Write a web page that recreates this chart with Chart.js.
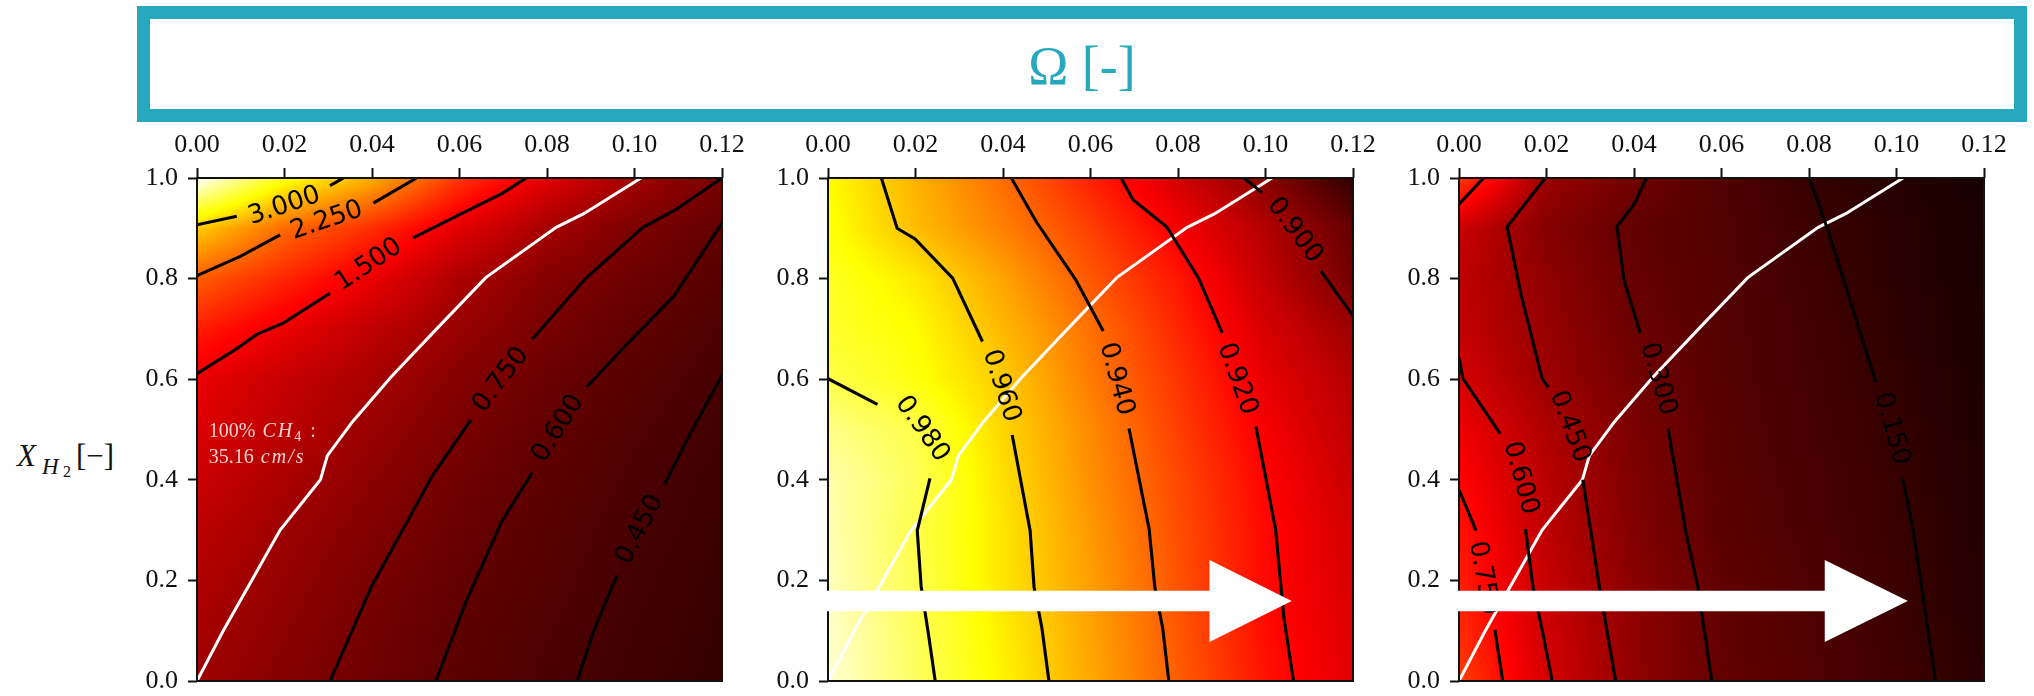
<!DOCTYPE html>
<html>
<head>
<meta charset="utf-8">
<script src="https://cdn.jsdelivr.net/npm/chart.js@4/dist/chart.umd.min.js"></script>
<style>
html,body{margin:0;padding:0;background:#fff;}
body{width:2034px;height:696px;overflow:hidden;position:relative;}
#titlebox{position:absolute;left:137px;top:6px;width:1890px;height:116px;box-sizing:border-box;border:13px solid #26A9BE;background:#fff;
  display:flex;align-items:center;justify-content:center;font-family:'Liberation Serif','DejaVu Serif',serif;font-size:54px;color:#26A9BE;padding-top:4px;}
.yl{position:absolute;font-family:'Liberation Serif','DejaVu Serif',serif;color:#111;white-space:nowrap;}
canvas{position:absolute;}
</style>
</head>
<body>
<div id="titlebox">Ω [-]</div>
<span class="yl" style="left:17px;top:440px;font-size:31px;line-height:31px;font-style:italic;">X</span>
<span class="yl" style="left:42px;top:455px;font-size:23px;line-height:23px;font-style:italic;">H</span>
<span class="yl" style="left:63px;top:464px;font-size:16px;line-height:16px;">2</span>
<span class="yl" style="left:76px;top:440px;font-size:31px;line-height:31px;">[−]</span>
<canvas id="c1"></canvas>
<canvas id="c2"></canvas>
<canvas id="c3"></canvas>
<script>
// ---------------- data ----------------
const xTicks = [0, 0.02, 0.04, 0.06, 0.08, 0.10, 0.12];
const xTickLabels = ['0.00', '0.02', '0.04', '0.06', '0.08', '0.10', '0.12'];
const yTicks = [0, 0.2, 0.4, 0.6, 0.8, 1.0];
const yTickLabels = ['0.0', '0.2', '0.4', '0.6', '0.8', '1.0'];

// field sample locations (x = second variable, y = X_H2)
const gridX = [0, 0.02, 0.04, 0.06, 0.08, 0.10, 0.12];
const gridY = [0, 0.1, 0.2, 0.3, 0.4, 0.5, 0.6, 0.7, 0.8, 0.9, 1.0];

// rows from X_H2 = 0.0 (first) to 1.0 (last)
const leftGrid = [
  [1.00, 0.835, 0.69, 0.575, 0.48, 0.39, 0.33],
  [1.05, 0.88, 0.717, 0.59, 0.50, 0.41, 0.34],
  [1.11, 0.93, 0.753, 0.62, 0.53, 0.43, 0.35],
  [1.18, 0.99, 0.81, 0.66, 0.55, 0.45, 0.37],
  [1.27, 1.07, 0.88, 0.70, 0.58, 0.48, 0.38],
  [1.38, 1.18, 0.96, 0.76, 0.61, 0.51, 0.42],
  [1.48, 1.24, 1.05, 0.84, 0.66, 0.55, 0.45],
  [1.80, 1.48, 1.20, 0.95, 0.745, 0.60, 0.49],
  [2.22, 1.85, 1.48, 1.08, 0.83, 0.68, 0.55],
  [2.95, 2.30, 1.90, 1.42, 1.04, 0.78, 0.61],
  [4.40, 3.35, 2.75, 1.95, 1.42, 1.02, 0.75]
];
const midGrid = [
  [0.998, 0.983, 0.968, 0.953, 0.938, 0.923, 0.914],
  [0.997, 0.982, 0.967, 0.952, 0.937, 0.922, 0.913],
  [0.995, 0.981, 0.965, 0.951, 0.936, 0.921, 0.912],
  [0.994, 0.980, 0.965, 0.950, 0.935, 0.921, 0.911],
  [0.993, 0.982, 0.964, 0.948, 0.934, 0.920, 0.909],
  [0.988, 0.980, 0.962, 0.947, 0.932, 0.918, 0.907],
  [0.980, 0.972, 0.960, 0.944, 0.930, 0.915, 0.905],
  [0.976, 0.970, 0.956, 0.942, 0.927, 0.912, 0.901],
  [0.975, 0.966, 0.952, 0.937, 0.924, 0.908, 0.893],
  [0.972, 0.957, 0.945, 0.932, 0.918, 0.905, 0.890],
  [0.970, 0.955, 0.941, 0.926, 0.911, 0.897, 0.880]
];
const rightGrid = [
  [0.92, 0.61, 0.415, 0.285, 0.236, 0.175, 0.12],
  [0.86, 0.59, 0.41, 0.28, 0.23, 0.17, 0.11],
  [0.82, 0.565, 0.39, 0.275, 0.225, 0.165, 0.105],
  [0.79, 0.54, 0.37, 0.26, 0.215, 0.16, 0.10],
  [0.74, 0.53, 0.36, 0.255, 0.21, 0.155, 0.10],
  [0.69, 0.50, 0.35, 0.25, 0.20, 0.148, 0.09],
  [0.61, 0.445, 0.33, 0.245, 0.195, 0.14, 0.085],
  [0.56, 0.43, 0.305, 0.24, 0.19, 0.13, 0.08],
  [0.55, 0.41, 0.29, 0.24, 0.18, 0.125, 0.075],
  [0.58, 0.38, 0.28, 0.235, 0.17, 0.12, 0.07],
  [0.92, 0.445, 0.32, 0.23, 0.15, 0.11, 0.065]
];

// reference line: 100% CH4 flame speed (35.16 cm/s), same in all panels
const refLine = [[0,0],[0.006,0.1],[0.0125,0.2],[0.019,0.3],[0.0282,0.4],[0.0298,0.448],[0.0355,0.515],
  [0.0443,0.604],[0.0551,0.703],[0.066,0.802],[0.0821,0.902],[0.0884,0.929],[0.1015,1.0]];

// contour lines (null = gap where the inline label sits)
const leftLevels = [3.0, 2.25, 1.5, 0.75, 0.6, 0.45];
const leftContours = [
  [[0,0.907],[0.0091,0.924],null,[0.0304,0.985],[0.0335,1.0]],
  [[0,0.806],[0.0099,0.844],[0.019,0.887],null,[0.0403,0.950],[0.0502,1.0]],
  [[0,0.611],[0.0088,0.659],[0.0137,0.689],[0.0198,0.712],[0.0304,0.771],null,[0.0494,0.881],[0.0593,0.924],[0.0699,0.970],[0.0752,1.0]],
  [[0.0304,0],[0.040,0.19],[0.054,0.411],[0.0626,0.519],null,[0.0766,0.679],[0.0889,0.801],[0.1018,0.901],[0.1094,0.937],[0.12,1.0]],
  [[0.0546,0],[0.0616,0.16],[0.0696,0.316],[0.0766,0.414],null,[0.089,0.584],[0.0982,0.669],[0.1089,0.764],[0.12,0.91]],
  [[0.0869,0],[0.0906,0.098],[0.096,0.21],null,[0.1068,0.39],[0.1132,0.499],[0.12,0.608]]
];
const leftLabelAt = [[0.0199,0.946],[0.0296,0.917],[0.0391,0.829],[0.0693,0.600],[0.0824,0.503],[0.1011,0.302]];

const midLevels = [0.98, 0.96, 0.94, 0.92, 0.90];
const midContours = [
  [[0,0.601],[0.0113,0.55],null,[0.0233,0.403],[0.0204,0.299],[0.0213,0.187],[0.0231,0.085],[0.0245,0]],
  [[0.0122,1.0],[0.0158,0.9],[0.0199,0.879],[0.0285,0.801],[0.0353,0.675],null,[0.0421,0.489],[0.0462,0.299],[0.0471,0.187],[0.0489,0.105],[0.0505,0]],
  [[0.0419,1.0],[0.0476,0.913],[0.0566,0.798],[0.0629,0.696],null,[0.0688,0.502],[0.0734,0.302],[0.0747,0.187],[0.0765,0.105],[0.0779,0]],
  [[0.067,1.0],[0.0697,0.957],[0.0774,0.903],[0.0847,0.801],[0.0901,0.692],null,[0.0978,0.506],[0.1023,0.302],[0.1042,0.126],[0.1064,0]],
  [[0.0951,1.0],[0.0992,0.971],null,[0.1127,0.815],[0.12,0.726]]
];
const midLabelAt = [[0.0217,0.502],[0.0398,0.587],[0.0661,0.601],[0.0937,0.601],[0.1068,0.897]];

const rightLevels = [0.75, 0.75, 0.6, 0.45, 0.3, 0.15];
const rightContours = [
  [[0,0.948],[0.0056,1.0]],
  [[0,0.38],[0.0039,0.299],null,[0.0082,0.102],[0.01,0]],
  [[0,0.642],[0.0009,0.601],[0.0094,0.492],null,[0.0152,0.302],[0.0169,0.187],[0.0194,0.085],[0.0213,0]],
  [[0.0197,1.0],[0.011,0.903],[0.0143,0.764],[0.019,0.601],[0.0204,0.584],null,[0.0283,0.4],[0.0321,0.187],[0.0358,0]],
  [[0.0428,1.0],[0.0402,0.95],[0.0361,0.903],[0.0377,0.798],[0.0414,0.692],null,[0.0478,0.502],[0.0518,0.299],[0.0546,0.187],[0.0578,0]],
  [[0.0801,1.0],[0.0846,0.889],[0.0953,0.594],null,[0.1014,0.404],[0.1038,0.302],[0.1089,0]]
];
const rightLabelAt = [null,[0.0058,0.205],[0.01425,0.404],[0.0255,0.506],[0.0457,0.601],[0.0991,0.502]];

// white arrows (data units): shaft start, head base, tip, centre y
const midArrow = [-0.015, 0.0872, 0.1060, 0.159];
const rightArrow = [-0.015, 0.0836, 0.1026, 0.159];

// ---------------- style / layout ----------------
const PANEL_W = 525, PANEL_H = 503, PANEL_TOP = 178;
const AX_LEFT = 120, AX_TOP = 58, PAD_R = 32, PAD_B = 32;
const tickFont = {family: "'Liberation Serif','DejaVu Serif',serif", size: 26};
const labelFont = "26px 'DejaVu Sans', sans-serif";

function hot(t) {
  t = Math.max(0, Math.min(1, t));
  const r = Math.min(1, t / 0.365079);
  const g = Math.max(0, Math.min(1, (t - 0.365079) / 0.380953));
  const b = Math.max(0, Math.min(1, (t - 0.746032) / 0.253968));
  return [r * 255, g * 255, b * 255];
}
function locate(arr, v) {
  let i = 0;
  while (i < arr.length - 2 && v > arr[i + 1]) i++;
  return i;
}
function bilinear(grid, xv, yv) {
  const i = locate(gridX, xv), j = locate(gridY, yv);
  let fx = (xv - gridX[i]) / (gridX[i + 1] - gridX[i]);
  let fy = (yv - gridY[j]) / (gridY[j + 1] - gridY[j]);
  fx = Math.max(0, Math.min(1, fx)); fy = Math.max(0, Math.min(1, fy));
  const a = grid[j][i], b = grid[j][i + 1], c = grid[j + 1][i], d = grid[j + 1][i + 1];
  return (a * (1 - fx) + b * fx) * (1 - fy) + (c * (1 - fx) + d * fx) * fy;
}

const heatPlugin = {
  id: 'heat',
  beforeDatasetsDraw(chart, args, opts) {
    const {ctx, chartArea: ca, scales: {x, y}} = chart;
    const L = Math.round(ca.left), T = Math.round(ca.top);
    const W = Math.round(ca.right) - L, H = Math.round(ca.bottom) - T;
    const img = ctx.createImageData(W, H);
    const span = opts.vmax - opts.vmin;
    for (let py = 0; py < H; py++) {
      const yv = y.getValueForPixel(T + py + 0.5);
      for (let px = 0; px < W; px++) {
        const xv = x.getValueForPixel(L + px + 0.5);
        const v = bilinear(opts.grid, xv, yv);
        const c = hot((v - opts.vmin) / span);
        const k = (py * W + px) * 4;
        img.data[k] = c[0]; img.data[k + 1] = c[1]; img.data[k + 2] = c[2]; img.data[k + 3] = 255;
      }
    }
    ctx.putImageData(img, L, T);
  }
};

const contourLabelPlugin = {
  id: 'clabels',
  afterDatasetsDraw(chart, args, opts) {
    const {ctx, scales: {x, y}} = chart;
    ctx.save();
    ctx.font = labelFont;
    ctx.fillStyle = '#000';
    ctx.textAlign = 'center';
    ctx.textBaseline = 'middle';
    opts.contours.forEach((pts, n) => {
      const at = opts.labelAt[n];
      if (!at) return;
      const k = pts.indexOf(null);
      const p1 = pts[k - 1], p2 = pts[k + 1];
      const dx = x.getPixelForValue(p2[0]) - x.getPixelForValue(p1[0]);
      const dy = y.getPixelForValue(p2[1]) - y.getPixelForValue(p1[1]);
      let ang = Math.atan2(dy, dx);
      if (ang > Math.PI / 2) ang -= Math.PI;
      if (ang <= -Math.PI / 2) ang += Math.PI;
      ctx.save();
      ctx.translate(x.getPixelForValue(at[0]), y.getPixelForValue(at[1]));
      ctx.rotate(ang);
      ctx.fillText(opts.levels[n].toFixed(3), 0, 1);
      ctx.restore();
    });
    ctx.restore();
  }
};

const framePlugin = {
  id: 'frame',
  afterDraw(chart) {
    const {ctx, chartArea: ca} = chart;
    ctx.save();
    ctx.strokeStyle = '#111';
    ctx.lineWidth = 2;
    ctx.strokeRect(ca.left, ca.top, ca.right - ca.left, ca.bottom - ca.top);
    ctx.restore();
  }
};

const notePlugin = {
  id: 'note',
  afterDraw(chart, args, opts) {
    if (!opts.show) return;
    const {ctx, scales: {x, y}} = chart;
    const fam = "'Liberation Serif','DejaVu Serif',serif";
    function runs(x0, y0, parts) {
      let cx = x0;
      parts.forEach(p => {
        ctx.font = (p.it ? 'italic ' : '') + (p.sub ? '14px ' : '20px ') + fam;
        ctx.letterSpacing = p.it ? '2px' : '0px';
        ctx.fillText(p.t, cx, y0 + (p.sub ? 4 : 0));
        cx += ctx.measureText(p.t).width + (p.gap || 0);
      });
    }
    ctx.save();
    ctx.fillStyle = '#f4d2d2';
    ctx.textBaseline = 'alphabetic';
    ctx.textAlign = 'left';
    const x0 = x.getPixelForValue(0.0027);
    runs(x0, y.getPixelForValue(0.486), [{t: '100%', gap: 7}, {t: 'CH', it: true}, {t: '4', sub: true, gap: 9}, {t: ':'}]);
    runs(x0, y.getPixelForValue(0.434), [{t: '35.16', gap: 7}, {t: 'cm/s', it: true}]);
    ctx.restore();
  }
};

const arrowPlugin = {
  id: 'arrow',
  afterDraw(chart, args, opts) {
    if (!opts.spec) return;
    const {ctx, scales: {x, y}} = chart;
    const [x0, xb, xt, yc] = opts.spec;
    const X0 = x.getPixelForValue(x0), XB = x.getPixelForValue(xb), XT = x.getPixelForValue(xt);
    const Yc = y.getPixelForValue(yc);
    const sh = y.getPixelForValue(0) - y.getPixelForValue(0.0205);
    const hh = y.getPixelForValue(0) - y.getPixelForValue(0.0815);
    ctx.save();
    ctx.fillStyle = '#fff';
    ctx.beginPath();
    ctx.moveTo(X0, Yc - sh);
    ctx.lineTo(XB, Yc - sh);
    ctx.lineTo(XB, Yc - hh);
    ctx.lineTo(XT, Yc);
    ctx.lineTo(XB, Yc + hh);
    ctx.lineTo(XB, Yc + sh);
    ctx.lineTo(X0, Yc + sh);
    ctx.closePath();
    ctx.fill();
    ctx.restore();
  }
};

function toXY(pts) {
  return pts.map(p => p ? {x: p[0], y: p[1]} : {x: NaN, y: NaN});
}

function makePanel(id, left, grid, vmin, vmax, levels, contours, labelAt, arrow, note) {
  const cv = document.getElementById(id);
  const cw = AX_LEFT + PANEL_W + PAD_R, ch = AX_TOP + PANEL_H + PAD_B;
  cv.width = cw; cv.height = ch;
  cv.style.width = cw + 'px'; cv.style.height = ch + 'px';
  cv.style.left = (left - AX_LEFT) + 'px';
  cv.style.top = (PANEL_TOP - AX_TOP) + 'px';

  const datasets = contours.map(pts => ({
    data: toXY(pts), showLine: true, borderColor: '#000', borderWidth: 3.1,
    pointRadius: 0, pointHoverRadius: 0, fill: false, spanGaps: false, tension: 0
  }));
  datasets.push({
    data: toXY(refLine), showLine: true, borderColor: '#fff', borderWidth: 3,
    pointRadius: 0, pointHoverRadius: 0, fill: false, tension: 0
  });

  return new Chart(cv, {
    type: 'scatter',
    data: {datasets},
    options: {
      responsive: false, animation: false, devicePixelRatio: 1,
      events: [],
      layout: {padding: {left: 0, top: 0, right: PAD_R, bottom: PAD_B}},
      plugins: {
        legend: {display: false}, tooltip: {enabled: false},
        heat: {grid, vmin, vmax},
        clabels: {levels, contours, labelAt},
        note: {show: note},
        arrow: {spec: arrow}
      },
      scales: {
        x: {
          type: 'linear', position: 'top', min: 0, max: 0.12,
          afterBuildTicks: s => { s.ticks = xTicks.map(v => ({value: v})); },
          afterFit: s => { s.height = AX_TOP; },
          ticks: {font: tickFont, color: '#111', padding: 7, maxRotation: 0, autoSkip: false,
            callback: (v, i) => xTickLabels[i]},
          grid: {drawOnChartArea: false, drawTicks: true, tickLength: 10, tickWidth: 2, tickColor: '#111'},
          border: {display: false}
        },
        y: {
          type: 'linear', position: 'left', min: 0, max: 1,
          afterBuildTicks: s => { s.ticks = yTicks.map(v => ({value: v})); },
          afterFit: s => { s.width = AX_LEFT; },
          ticks: {font: tickFont, color: '#111', padding: 10, autoSkip: false,
            callback: (v, i) => yTickLabels[i]},
          grid: {drawOnChartArea: false, drawTicks: true, tickLength: 9, tickWidth: 2, tickColor: '#111'},
          border: {display: false}
        }
      }
    },
    plugins: [heatPlugin, contourLabelPlugin, framePlugin, notePlugin, arrowPlugin]
  });
}

makePanel('c1', 197, leftGrid, 0, 4.4, leftLevels, leftContours, leftLabelAt, null, true);
makePanel('c2', 828, midGrid, 0.871, 1.004, midLevels, midContours, midLabelAt, midArrow, false);
makePanel('c3', 1459, rightGrid, 0, 2.0, rightLevels, rightContours, rightLabelAt, rightArrow, false);
</script>
</body>
</html>
